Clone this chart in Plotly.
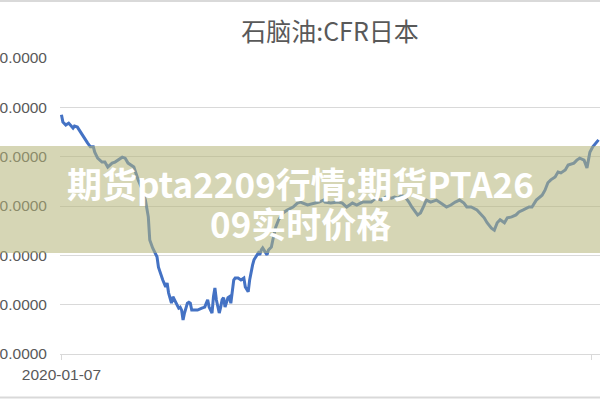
import plotly.graph_objects as go

# 石脑油 CFR日本
dates = [
    "2020-01-07", "2020-01-08", "2020-01-10", "2020-01-12", "2020-01-15", "2020-01-16",
    "2020-01-18", "2020-01-20", "2020-01-22", "2020-01-25", "2020-01-27", "2020-01-29",
    "2020-01-30", "2020-02-01", "2020-02-04", "2020-02-06", "2020-02-08", "2020-02-11",
    "2020-02-13", "2020-02-15", "2020-02-18", "2020-02-20", "2020-02-22", "2020-02-26",
    "2020-02-29", "2020-03-03", "2020-03-05", "2020-03-07", "2020-03-08", "2020-03-10",
    "2020-03-13", "2020-03-14", "2020-03-15", "2020-03-16", "2020-03-17", "2020-03-19",
    "2020-03-20", "2020-03-21", "2020-03-22", "2020-03-23", "2020-03-24", "2020-03-25",
    "2020-03-27", "2020-03-28", "2020-03-29", "2020-03-30", "2020-03-31", "2020-04-01",
    "2020-04-03", "2020-04-04", "2020-04-05", "2020-04-06", "2020-04-08", "2020-04-10",
    "2020-04-13", "2020-04-15", "2020-04-16", "2020-04-17", "2020-04-18", "2020-04-20",
    "2020-04-21", "2020-04-22", "2020-04-23", "2020-04-25", "2020-04-26", "2020-04-27",
    "2020-04-28", "2020-04-29", "2020-05-01", "2020-05-02", "2020-05-03", "2020-05-04",
    "2020-05-05", "2020-05-06", "2020-05-08", "2020-05-10", "2020-05-12", "2020-05-13",
    "2020-05-15", "2020-05-16", "2020-05-17", "2020-05-18", "2020-05-19", "2020-05-20",
    "2020-05-22", "2020-05-23", "2020-05-24", "2020-05-25", "2020-05-26", "2020-05-27",
    "2020-05-28", "2020-05-29", "2020-05-31", "2020-06-01", "2020-06-02", "2020-06-03",
    "2020-06-05", "2020-06-08", "2020-06-11", "2020-06-15", "2020-06-18", "2020-06-20",
    "2020-06-25", "2020-06-30", "2020-07-03", "2020-07-06", "2020-07-07", "2020-07-11",
    "2020-07-16", "2020-07-19", "2020-07-22", "2020-07-26", "2020-07-29", "2020-08-02",
    "2020-08-05", "2020-08-08", "2020-08-11", "2020-08-15", "2020-08-18", "2020-08-22",
    "2020-08-24", "2020-08-27", "2020-08-29", "2020-09-01", "2020-09-03", "2020-09-05",
    "2020-09-09", "2020-09-11", "2020-09-13", "2020-09-15", "2020-09-18", "2020-09-22",
    "2020-09-25", "2020-09-29", "2020-10-02", "2020-10-05", "2020-10-08", "2020-10-11",
    "2020-10-13", "2020-10-16", "2020-10-20", "2020-10-23", "2020-10-25", "2020-10-27",
    "2020-10-30", "2020-11-01", "2020-11-03", "2020-11-05", "2020-11-08", "2020-11-10",
    "2020-11-13", "2020-11-16", "2020-11-18", "2020-11-21", "2020-11-25", "2020-11-27",
    "2020-11-30", "2020-12-04", "2020-12-06", "2020-12-08", "2020-12-10", "2020-12-13",
    "2020-12-15", "2020-12-17", "2020-12-20", "2020-12-22", "2020-12-26", "2020-12-28",
    "2020-12-30", "2021-01-02", "2021-01-04", "2021-01-05", "2021-01-06", "2021-01-08",
    "2021-01-10", "2021-01-12",
]
prices = [
    585, 570, 564, 568, 558, 562,
    560, 550, 540, 528, 520, 520,
    509, 497, 489, 489, 479, 487,
    489, 493, 499, 497, 487, 479,
    453, 432, 412, 378, 331, 315,
    297, 276, 266, 260, 250, 236,
    244, 224, 210, 203, 216, 210,
    199, 193, 195, 189, 169, 183,
    203, 205, 203, 189, 189, 189,
    193, 195, 203, 210, 195, 183,
    216, 234, 210, 183, 195, 210,
    214, 195, 214, 216, 203, 224,
    250, 254, 254, 250, 254, 236,
    226, 250, 270, 280, 291, 295,
    305, 301, 311, 315, 311, 305,
    301, 311, 317, 331, 347, 357,
    372, 386, 392, 398, 406, 408,
    402, 406, 408, 412, 408, 406,
    408, 406, 398, 406, 402, 408,
    408, 408, 416, 412, 418, 416,
    418, 416, 422, 416, 408, 398,
    382, 386, 398, 412, 408, 412,
    406, 398, 402, 408, 412, 406,
    398, 398, 392, 382, 376, 366,
    355, 351, 366, 372, 366, 376,
    378, 382, 388, 392, 398, 398,
    412, 422, 432, 447, 453, 459,
    469, 467, 473, 483, 487, 493,
    497, 493, 477, 493, 509, 520,
    528, 534,
]
y_ticks = [100, 200, 300, 400, 500, 600, 700]
x_ticks = ["2020-01-07", "2021-01-07"]

title_text = "石脑油:CFR日本"
banner_lines = ["期货pta2209行情:期货PTA26", "09实时价格"]

grid = "#d9d9d9"
label_col = "#595959"

fig = go.Figure(go.Scatter(
    x=dates, y=prices, mode="lines",
    line=dict(color="#4472c4", width=3),
    showlegend=False, hoverinfo="skip"))

fig.update_layout(
    width=600, height=400,
    template="none",
    paper_bgcolor="white", plot_bgcolor="white",
    margin=dict(l=60, r=0, t=58, b=46),
    font=dict(family="Liberation Sans, Arial, sans-serif", size=15.5, color=label_col),
    title=dict(text=title_text, x=0.5, xref="paper", xanchor="center",
               y=1 - 32 / 400, yref="container", yanchor="middle",
               font=dict(family="Noto Sans CJK SC", size=25, color=label_col)),
    xaxis=dict(
        type="date", range=["2020-01-06", "2021-01-13"],
        tickvals=x_ticks, ticktext=x_ticks,
        showgrid=False, zeroline=False,
        showline=True, linecolor=grid, linewidth=1,
        ticks="outside", ticklen=5, tickcolor=grid,
        ticklabelstandoff=1, automargin=False),
    yaxis=dict(
        range=[100, 700], tickvals=y_ticks, tickformat=".4f",
        showgrid=True, gridcolor=grid, gridwidth=1,
        zeroline=False, showline=False, ticks="",
        ticklabelstandoff=12, automargin=False),
)

# olive banner across the middle with the overlay text
fig.add_shape(type="rect", xref="paper", yref="paper",
              x0=-0.12, x1=1.02, y0=(354 - 253) / 296, y1=(354 - 146) / 296,
              fillcolor="rgba(180,180,120,0.55)", line_width=0, layer="above")
for line_text, yc in zip(banner_lines, [182, 222]):
    fig.add_annotation(text=line_text, xref="paper", yref="paper",
                       x=(300 - 60) / 540, y=(354 - yc) / 296,
                       xanchor="center", yanchor="middle", showarrow=False,
                       font=dict(family="Noto Sans CJK SC", size=35, color="white",
                                 weight="bold"))

# frame edges of the cropped chart image
for yy in [1.0, 397.5]:
    fig.add_shape(type="line", xref="paper", yref="paper",
                  x0=-0.12, x1=1.02, y0=(354 - yy) / 296, y1=(354 - yy) / 296,
                  line=dict(color=grid, width=2))

# page body margin would push the 600x400 figure off the window
fig.write_html("out.html", config={"displayModeBar": False},
               post_script="document.body.style.margin='0';")
